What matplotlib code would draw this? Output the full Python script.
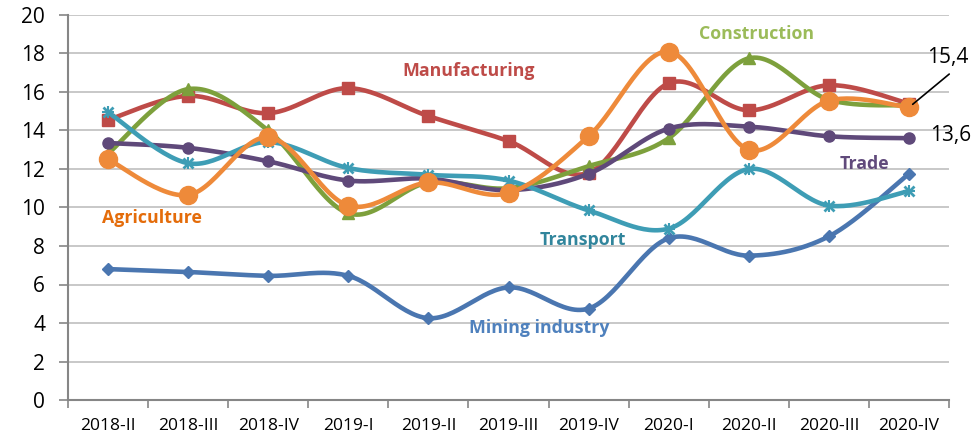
import matplotlib.pyplot as plt
import numpy as np

quarters = ["2018-II", "2018-III", "2018-IV", "2019-I", "2019-II", "2019-III",
            "2019-IV", "2020-I", "2020-II", "2020-III", "2020-IV"]

mining = [6.8, 6.65, 6.45, 6.45, 4.25, 5.85, 4.75, 8.4, 7.5, 8.5, 11.75]
manufacturing = [14.55, 15.8, 14.9, 16.2, 14.75, 13.45, 11.8, 16.45, 15.05, 16.35, 15.4]
construction = [12.8, 16.15, 14.0, 9.7, 11.3, 11.0, 12.15, 13.6, 17.75, 15.6, 15.3]
trade = [13.35, 13.1, 12.4, 11.4, 11.5, 10.9, 11.75, 14.1, 14.2, 13.7, 13.6]
transport = [14.95, 12.3, 13.4, 12.05, 11.7, 11.4, 9.85, 8.9, 12.0, 10.1, 10.85]
agriculture = [12.5, 10.65, 13.65, 10.1, 11.3, 10.75, 13.7, 18.1, 13.0, 15.55, 15.2]

last_labels = ["15,4", "13,6"]


def smooth(x, y, n=30):
    # Excel-style smoothed line: cubic bezier with catmull-rom control points
    x = np.asarray(x, float)
    y = np.asarray(y, float)
    px = np.concatenate([[x[0]], x, [x[-1]]])
    py = np.concatenate([[y[0]], y, [y[-1]]])
    t = np.linspace(0, 1, n)
    xs, ys = [], []
    for i in range(1, len(px) - 2):
        p0 = np.array([px[i], py[i]])
        p3 = np.array([px[i + 1], py[i + 1]])
        c1 = p0 + (p3 - np.array([px[i - 1], py[i - 1]])) / 6
        c2 = p3 - (np.array([px[i + 2], py[i + 2]]) - p0) / 6
        b = ((1 - t) ** 3)[:, None] * p0 + (3 * (1 - t) ** 2 * t)[:, None] * c1 \
            + (3 * (1 - t) * t ** 2)[:, None] * c2 + (t ** 3)[:, None] * p3
        xs.append(b[:, 0])
        ys.append(b[:, 1])
    return np.concatenate(xs), np.concatenate(ys)


plt.rcParams['font.family'] = ['Open Sans', 'DejaVu Sans']

fig = plt.figure(figsize=(9.73, 4.38), dpi=100)
ax = fig.add_axes([68 / 973, 1 - 400 / 438, (949 - 68) / 973, (400 - 15) / 438])

x = np.arange(len(quarters))

series = [
    (mining, "#4A76B0", "D", 6),
    (manufacturing, "#BE4B48", "s", 8),
    (construction, "#7DA03C", "^", 8),
    (trade, "#5F497A", "o", 8),
    (transport, "#3E9DB5", "x", 7),
    (agriculture, "#EE8A3A", "o", 13),
]
for i, (vals, col, mk, ms) in enumerate(series):
    sx, sy = smooth(x, vals)
    ax.plot(sx, sy, color=col, lw=3.3, solid_capstyle="round", zorder=3 + i)
    if mk == "x":
        ax.plot(x, vals, ls="none", marker="x", ms=ms, mew=2, color=col, zorder=3 + i)
        ax.plot(x, vals, ls="none", marker="+", ms=ms + 1, mew=1.5, color=col, zorder=3 + i)
    else:
        ax.plot(x, vals, ls="none", marker=mk, ms=ms, color=col, zorder=3 + i)

ax.set_xlim(-0.5, len(quarters) - 0.5)
ax.set_ylim(0, 20)
ax.set_yticks(np.arange(0, 21, 2))
ax.set_xticks(x)
ax.set_xticklabels(quarters, fontsize=12.5)
ax.set_xticks(np.arange(-0.5, len(quarters), 1), minor=True)
ax.tick_params(axis="x", which="major", length=0, pad=13)
ax.tick_params(axis="x", which="minor", length=6, color="#868686", width=1.2)
ax.tick_params(axis="y", labelsize=15, length=6.5, color="#868686", width=1.2, pad=10)
ax.grid(axis="y", color="#BFBFBF", lw=1.2, zorder=0)
for s in ["top", "right"]:
    ax.spines[s].set_visible(False)
for s in ["left", "bottom"]:
    ax.spines[s].set_color("#868686")
    ax.spines[s].set_linewidth(1.5)

lab = dict(fontsize=12.8, fontweight="bold", ha="center", va="center")
ax.text(4.5, 17.1, "Manufacturing", color="#BE4B48", **lab)
ax.text(8.1, 19.0, "Construction", color="#9BBB59", **lab)
ax.text(0.55, 9.45, "Agriculture", color="#E46C0A", **lab)
ax.text(5.93, 8.3, "Transport", color="#31859C", **lab)
ax.text(5.39, 3.74, "Mining industry", color="#4F81BD", **lab)
ax.text(9.44, 12.26, "Trade", color="#604A7B", **lab)

# data labels for the last quarter, with a leader line for agriculture
end_pt = (x[-1], agriculture[-1])
ax.annotate(last_labels[0], xy=end_pt, xytext=(28, 36), textcoords="offset points",
            fontsize=15, ha="center", va="center", annotation_clip=False, zorder=20)
ax.annotate("", xy=end_pt, xytext=(29, 24), textcoords="offset points",
            arrowprops=dict(arrowstyle="-", color="black", lw=1.2, shrinkA=0, shrinkB=3.5),
            annotation_clip=False, zorder=20)
ax.annotate(last_labels[1], xy=(x[-1], trade[-1]), xytext=(30, 2), textcoords="offset points",
            fontsize=15, ha="center", va="center", annotation_clip=False)

fig.savefig("out.png", dpi=100)
